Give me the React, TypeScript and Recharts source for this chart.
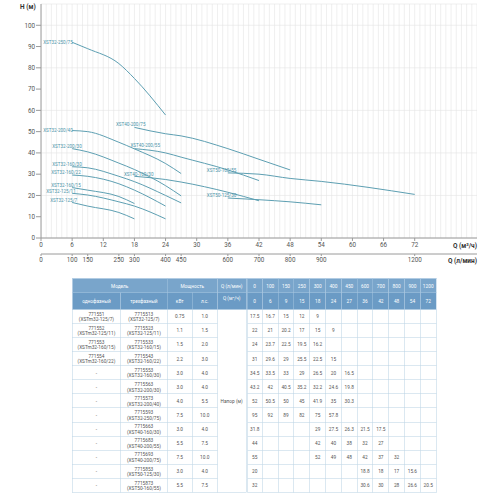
import React from 'react';
import { LineChart, Line, XAxis, YAxis, CartesianGrid, ReferenceLine } from 'recharts';

// ---- data ----
const qM3h = [0, 6, 9, 15, 18, 24, 27, 36, 42, 48, 54, 72];
const qLpm = [0, 100, 150, 250, 300, 400, 450, 600, 700, 800, 900, 1200];
const xTicksMain = [0, 6, 12, 18, 24, 30, 36, 42, 48, 54, 60, 66, 72];
const yTicks = [0, 10, 20, 30, 40, 50, 60, 70, 80, 90, 100];

const models = [
  'XST32-125/7', 'XST32-125/11', 'XST32-160/15', 'XST32-160/22', 'XST32-160/30',
  'XST32-200/30', 'XST32-200/40', 'XST32-250/75', 'XST40-160/30', 'XST40-200/55',
  'XST40-200/75', 'XST50-125/30', 'XST50-160/55',
];
const singlePhaseCodes = ['771551', '771552', '771553', '771554', '-', '-', '-', '-', '-', '-', '-', '-', '-'];
const singlePhaseModels = ['XSTm32-125/7', 'XSTm32-125/11', 'XSTm32-160/15', 'XSTm32-160/22', '', '', '', '', '', '', '', '', ''];
const threePhaseCodes = ['7715513', '7715523', '7715533', '7715543', '7715553', '7715563', '7715573', '7715593', '7715663', '7715683', '7715693', '7715853', '7715873'];
const powerKw = [0.75, 1.1, 1.5, 2.2, 3.0, 3.0, 4.0, 7.5, 3.0, 5.5, 7.5, 3.0, 5.5];
const powerHp = [1.0, 1.5, 2.0, 3.0, 4.0, 4.0, 5.5, 10.0, 4.0, 7.5, 10.0, 4.0, 7.5];

const N = null;
const h32_125_7 = [17.5, 16.7, 15, 12, 9, N, N, N, N, N, N, N];
const h32_125_11 = [22, 21, 20.2, 17, 15, 9, N, N, N, N, N, N];
const h32_160_15 = [24, 23.7, 22.5, 19.5, 16.2, N, N, N, N, N, N, N];
const h32_160_22 = [31, 29.6, 29, 25.5, 22.5, 15, N, N, N, N, N, N];
const h32_160_30 = [34.5, 33.5, 33, 29, 26.5, 20, 16.5, N, N, N, N, N];
const h32_200_30 = [43.2, 42, 40.5, 35.2, 32.2, 24.6, 19.8, N, N, N, N, N];
const h32_200_40 = [52, 50.5, 50, 45, 41.9, 35, 30.3, N, N, N, N, N];
const h32_250_75 = [95, 92, 89, 82, 75, 57.8, N, N, N, N, N, N];
const h40_160_30 = [31.8, N, N, N, 29, 27.5, 26.3, 21.5, 17.5, N, N, N];
const h40_200_55 = [44, N, N, N, 42, 40, 38, 32, 27, N, N, N];
const h40_200_75 = [55, N, N, N, 52, 49, 48, 42, 37, 32, N, N];
const h50_125_30 = [20, N, N, N, N, N, N, 18.8, 18, 17, 15.6, N];
const h50_160_55 = [32, N, N, N, N, N, N, 30.6, 30, 28, 26.6, 20.5];

const heads = [
  h32_125_7, h32_125_11, h32_160_15, h32_160_22, h32_160_30, h32_200_30, h32_200_40,
  h32_250_75, h40_160_30, h40_200_55, h40_200_75, h50_125_30, h50_160_55,
];

// ---- styling (label offsets relative to first curve point) ----
const labelOffsets: Record<string, [number, number]> = {
  'XST32-125/7': [-22, -2],
  'XST32-125/11': [-26, -2],
  'XST32-160/15': [-21, -2.5],
  'XST32-160/22': [-21, -3],
  'XST32-160/30': [-20, -2.5],
  'XST32-200/30': [-20, -2.5],
  'XST32-200/40': [-29, 0],
  'XST32-250/75': [-29, 0],
  'XST40-160/30': [-10.5, -2],
  'XST40-200/55': [-4, -3],
  'XST40-200/75': [-18.5, -2.5],
  'XST50-125/30': [-21, -3],
  'XST50-160/55': [-21, -2.7],
};

const gridQ = Array.from({ length: 85 }, (_, i) => i);

const LINE_COLOR = '#5d9fb2';
const LABEL_COLOR = '#4d95aa';
const GRID_COLOR = '#e4e4e4';
const AXIS_COLOR = '#9a9a9a';
const FONT = 'Roboto, "Liberation Sans", Arial, sans-serif';

const curveData = (h: (number | null)[]) =>
  qM3h
    .map((q, i) => ({ q, h: h[i] }))
    .filter((d) => d.q > 0 && d.h !== null);

const fmt1 = (v: number) => (Number.isInteger(v) ? v.toFixed(1) : String(v));

const makeLabel = (name: string) => (props: any) => {
  if (props.index !== 0) return <g />;
  const [dx, dy] = labelOffsets[name];
  return (
    <text
      x={props.x + dx}
      y={props.y + dy}
      fontSize={4.6}
      fill={LABEL_COLOR}
      fontFamily={FONT}
      textAnchor="start"
      dominantBaseline="central"
    >
      {name}
    </text>
  );
};

const headerBg1 = '#79a5cb';
const headerBg2 = '#6b9bc5';
const bodyBorder = '1px solid #b7d0e2';
const headBorder = '1px solid #a9c7e0';

const Table = () => {
  const colW = [96.6, 93.4, 50, 50, 58.6, ...qM3h.map(() => 31.6)];
  const th1: React.CSSProperties = {
    background: headerBg1, color: '#fff', fontWeight: 400, border: headBorder, height: 28, padding: 0, textAlign: 'center',
  };
  const th2: React.CSSProperties = { ...th1, background: headerBg2 };
  const td: React.CSSProperties = {
    border: bodyBorder, height: 27.2, padding: 0, textAlign: 'center', color: '#555', lineHeight: '11px',
  };
  return (
    <div style={{ position: 'absolute', left: 72, top: 278, width: 728, transform: 'scale(0.5)', transformOrigin: '0 0' }}>
      <table style={{ borderCollapse: 'collapse', width: 728, tableLayout: 'fixed', fontFamily: FONT, fontSize: 9.5 }}>
        <colgroup>
          {colW.map((w, i) => <col key={i} style={{ width: w }} />)}
        </colgroup>
        <tbody>
          <tr>
            <td style={th1} colSpan={2}>Модель</td>
            <td style={th1} colSpan={2}>Мощность</td>
            <td style={th1}>Q (л/мин)</td>
            {qLpm.map((v, i) => <td key={i} style={{ ...th1, borderLeft: i === 0 ? '3px double #a9c7e0' : headBorder }}>{v}</td>)}
          </tr>
          <tr>
            <td style={th2}>однофазный</td>
            <td style={th2}>трехфазный</td>
            <td style={th2}>кВт</td>
            <td style={th2}>л.с.</td>
            <td style={{ ...th2, verticalAlign: 'top', paddingTop: 4 }}>Q (м³/ч)</td>
            {qM3h.map((v, i) => <td key={i} style={{ ...th2, borderLeft: i === 0 ? '3px double #a9c7e0' : headBorder }}>{v}</td>)}
          </tr>
          {models.map((m, r) => (
            <tr key={m}>
              <td style={td}>
                {singlePhaseCodes[r]}
                {singlePhaseModels[r] ? <><br />({singlePhaseModels[r]})</> : null}
              </td>
              <td style={td}>{threePhaseCodes[r]}<br />({m})</td>
              <td style={td}>{fmt1(powerKw[r])}</td>
              <td style={td}>{fmt1(powerHp[r])}</td>
              {r === 0 ? <td style={td} rowSpan={models.length}>Напор (м)</td> : null}
              {heads[r].map((v, i) => (
                <td key={i} style={{ ...td, borderLeft: i === 0 ? '3px double #b7d0e2' : bodyBorder }}>
                  {v === null ? '' : String(v)}
                </td>
              ))}
            </tr>
          ))}
        </tbody>
      </table>
    </div>
  );
};

export default function App() {
  const tickStyle = { fontSize: 6.3, fill: '#555', fontFamily: FONT };
  return (
    <div style={{ position: 'absolute', left: 0, top: 0, width: 500, height: 500, background: '#fff', overflow: 'hidden' }}>
      <LineChart width={500} height={270} margin={{ top: 4, right: 23, bottom: 2, left: 0 }}>
        <CartesianGrid vertical={false} stroke={GRID_COLOR} strokeWidth={0.6} />
        {gridQ.map((q) => (
          <ReferenceLine key={q} x={q} stroke={GRID_COLOR} strokeWidth={0.6} ifOverflow="hidden" />
        ))}
        <XAxis
          type="number"
          dataKey="q"
          domain={[0, 84]}
          ticks={xTicksMain}
          height={16}
          tick={tickStyle}
          tickSize={3}
          tickMargin={2}
          stroke={AXIS_COLOR}
          allowDataOverflow
        />
        <XAxis
          xAxisId="lpm"
          type="number"
          dataKey="q"
          domain={[0, 84]}
          ticks={qM3h}
          tickFormatter={(v: number) => String(qLpm[qM3h.indexOf(v)] ?? '')}
          height={14}
          tick={tickStyle}
          tickSize={2}
          tickMargin={2}
          stroke={AXIS_COLOR}
          allowDataOverflow
        />
        <YAxis
          type="number"
          domain={[0, 110]}
          ticks={yTicks}
          width={41}
          tick={tickStyle}
          tickSize={5}
          tickMargin={1}
          stroke={AXIS_COLOR}
          allowDataOverflow
        />
        {models.map((m, i) => (
          <Line
            key={m}
            data={curveData(heads[i])}
            dataKey="h"
            type="monotone"
            stroke={LINE_COLOR}
            strokeWidth={1}
            dot={false}
            activeDot={false}
            isAnimationActive={false}
            label={makeLabel(m)}
          />
        ))}
      </LineChart>
      <div style={{ position: 'absolute', left: 20, top: 3, fontFamily: FONT, fontSize: 6.5, fontWeight: 700, color: '#333' }}>H (м)</div>
      <div style={{ position: 'absolute', right: 23, top: 242, fontFamily: FONT, fontSize: 6.5, fontWeight: 700, color: '#333' }}>Q (м³/ч)</div>
      <div style={{ position: 'absolute', right: 23, top: 257, fontFamily: FONT, fontSize: 6.5, fontWeight: 700, color: '#333' }}>Q (л/мин)</div>
      <Table />
    </div>
  );
}
